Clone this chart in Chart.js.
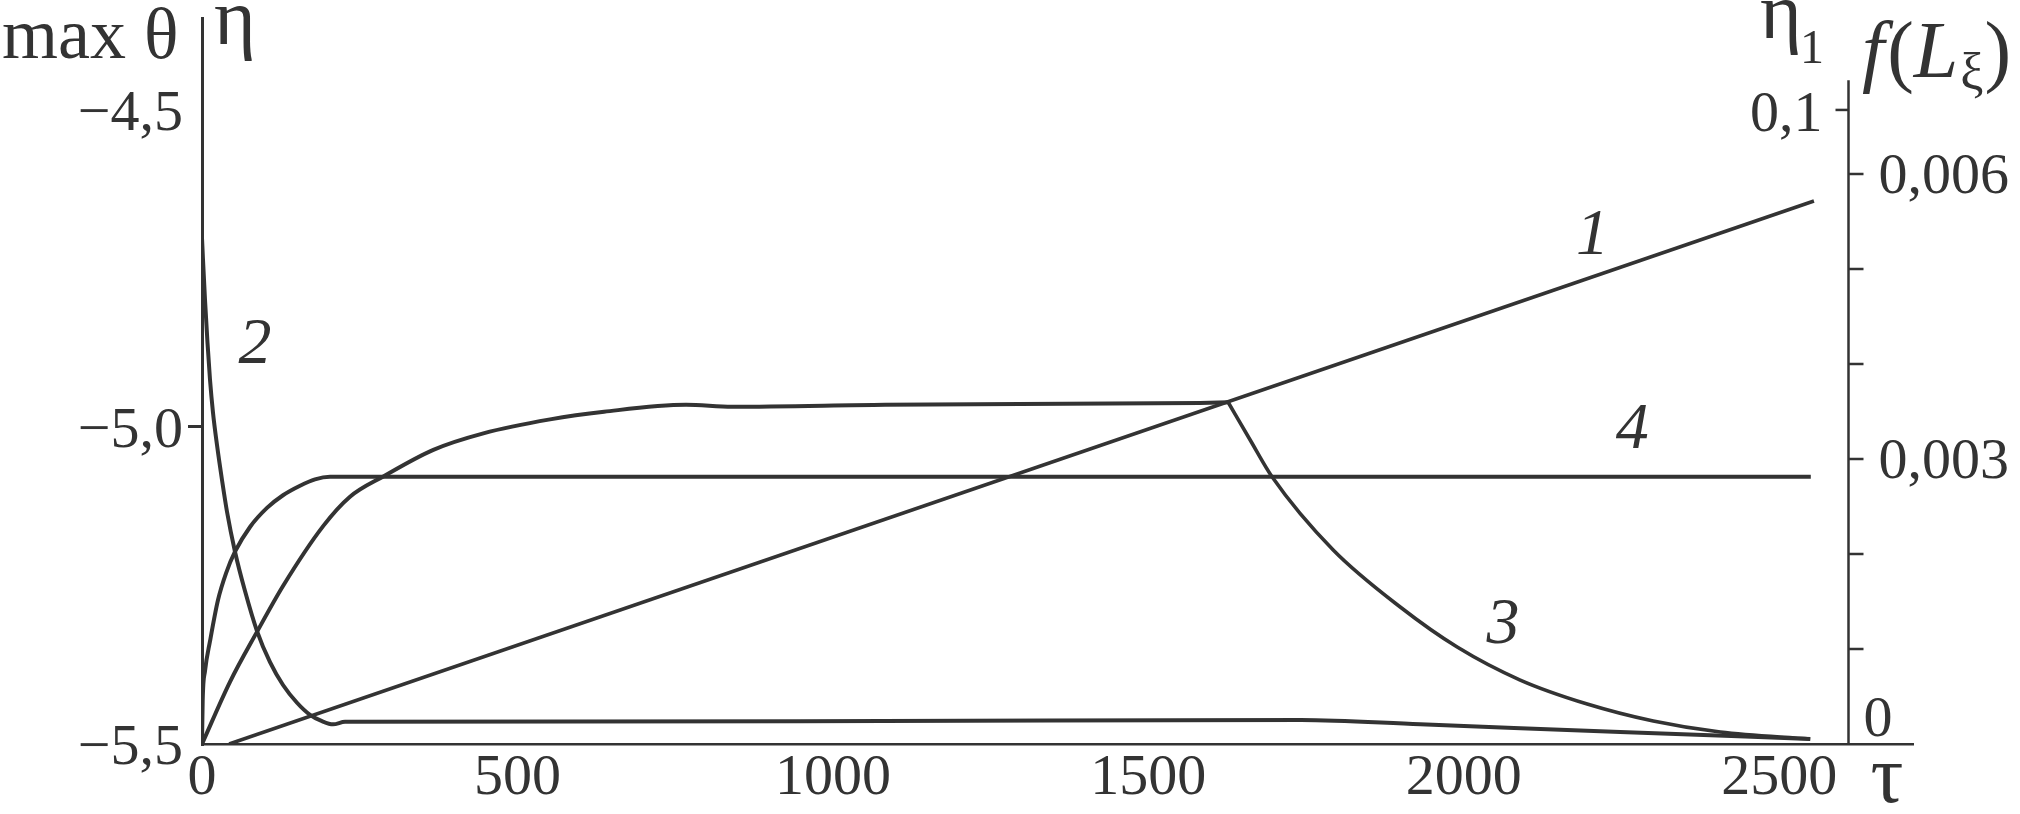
<!DOCTYPE html>
<html>
<head>
<meta charset="utf-8">
<script src="https://cdn.jsdelivr.net/npm/chart.js@4.4.1/dist/chart.umd.min.js"></script>
<style>
html, body { margin: 0; padding: 0; background: #ffffff; }
#wrap { width: 2020px; height: 814px; position: relative; }
</style>
</head>
<body>
<div id="wrap"><canvas id="c" width="2020" height="814"></canvas></div>
<script>
const INK = '#333333';
const FONT = '"Liberation Serif", "Times New Roman", serif';

// ---- tick values ----
const tauTicks = [0, 500, 1000, 1500, 2000, 2500];
const thetaTicks = [-5.5, -5.0, -4.5];
const thetaMarkedTicks = [-5.0];
const fMinorTicks = [0.001, 0.002, 0.003, 0.004, 0.005, 0.006];
const fLabelTicks = [0, 0.003, 0.006];
const eta1Ticks = [0.1];

// ---- curve 1 : f(L_xi) ----
const curve1Tau = [43, 2555];
const curve1F = [0, 0.005716];

// ---- curve 2 : max theta ----
const curve2JumpTau = [0, 0];
const curve2JumpTheta = [-5.5, -4.703];
const curve2Tau = [0, 1.59, 4.76, 8.72, 12.68, 17.44, 23.78, 31.71, 39.63, 52.31, 68.17, 87.19, 107.8, 128.4, 150.6, 171.2, 190.2, 207.7, 226.7, 948, 1742, 1931, 2248, 2549];
const curve2Theta = [-4.703, -4.737, -4.800, -4.868, -4.926, -4.978, -5.029, -5.084, -5.134, -5.197, -5.259, -5.322, -5.371, -5.407, -5.435, -5.454, -5.464, -5.469, -5.465, -5.464, -5.462, -5.469, -5.481, -5.492];

// ---- curve 3 : eta1 ----
const curve3RiseTau = [0, 44.4, 86.7, 128.9, 192.3, 234.6, 287.4, 366.7, 446, 551.7, 637.3, 767.3, 840.2, 1082.8, 1582.1, 1626.5];
const curve3RiseEta1 = [0, 0.0098, 0.0176, 0.0250, 0.0344, 0.0390, 0.0422, 0.0464, 0.0490, 0.0512, 0.0524, 0.0535, 0.0532, 0.0535, 0.0538, 0.0539];
const curve3FallTau = [1626.5, 1661.4, 1696.3, 1793.0, 1899.2, 1989.5, 2089.4, 2195.6, 2300.3, 2406.5, 2549.2];
const curve3FallEta1 = [0.0539, 0.04795, 0.04211, 0.0306, 0.02161, 0.0153, 0.01009, 0.00631, 0.00363, 0.00189, 0.00079];

// ---- curve 4 : eta ----
const curve4Tau = [0, 1.1, 4.76, 12.68, 25.36, 38.04, 52.3, 76.1, 103.0, 128.4, 155.4, 179.1, 202.9, 2550];
const curve4Theta = [-5.5, -5.431, -5.385, -5.338, -5.273, -5.231, -5.197, -5.158, -5.128, -5.108, -5.093, -5.083, -5.079, -5.079];

// ---- curve number labels (data coordinates) ----
const curveLabelText = ['1', '2', '3', '4'];
const curveLabelTau = [2204, 84, 2062, 2267];
const curveLabelVal = [0.005337, -4.872, -5.313, -5.007];
const curveLabelAxis = ['yf', 'y', 'y', 'y'];

function pts(xs, ys) { return xs.map((x, i) => ({ x: x, y: ys[i] })); }
function fmt(v, d) { return v.toFixed(d).replace('.', ',').replace('-', '\u2212'); }

const baseLine = {
  borderColor: INK, borderWidth: 4, pointRadius: 0, fill: false,
  cubicInterpolationMode: 'monotone', borderJoinStyle: 'round', borderCapStyle: 'butt'
};

const rightAxisPlugin = {
  id: 'rightAxis',
  afterDraw(chart, args, o) {
    const ctx = chart.ctx;
    const xs = chart.scales.x, yf = chart.scales.yf, ye = chart.scales.yeta1;
    const ax = Math.round(xs.getPixelForValue(o.atTau)) + 0.5;
    ctx.save();
    ctx.strokeStyle = INK; ctx.fillStyle = INK;
    ctx.lineWidth = 2.5;
    ctx.beginPath();
    ctx.moveTo(ax, ye.getPixelForValue(o.topEta1));
    ctx.lineTo(ax, ye.getPixelForValue(0));
    ctx.stroke();
    // eta1 ticks (left side)
    ctx.font = '58px ' + FONT;
    ctx.textAlign = 'right'; ctx.textBaseline = 'middle';
    eta1Ticks.forEach(v => {
      const y = ye.getPixelForValue(v);
      ctx.beginPath(); ctx.moveTo(ax - 13, y); ctx.lineTo(ax, y); ctx.stroke();
      ctx.fillText(fmt(v, 1), ax - 26, y + 6);
    });
    // f ticks (right side)
    fMinorTicks.forEach(v => {
      const y = yf.getPixelForValue(v);
      ctx.beginPath(); ctx.moveTo(ax, y); ctx.lineTo(ax + 15, y); ctx.stroke();
    });
    ctx.textAlign = 'left';
    fLabelTicks.forEach(v => {
      const y = yf.getPixelForValue(v);
      if (v === 0) {
        ctx.textBaseline = 'alphabetic';
        ctx.fillText('0', ax + 15, y - 8);
      } else {
        ctx.textBaseline = 'middle';
        ctx.fillText(fmt(v, 3), ax + 30, y + 4);
      }
    });
    ctx.restore();
  }
};

const titlesPlugin = {
  id: 'titles',
  afterDraw(chart) {
    const ctx = chart.ctx;
    ctx.save();
    ctx.fillStyle = INK;
    ctx.textBaseline = 'alphabetic';
    ctx.textAlign = 'left';
    // left titles
    ctx.font = '72px ' + FONT;
    ctx.fillText('max \u03b8', 2, 58);
    ctx.font = '80px ' + FONT;
    ctx.fillText('\u03b7', 214, 44);
    // eta1
    ctx.fillText('\u03b7', 1760, 38);
    ctx.font = '48px ' + FONT;
    ctx.fillText('1', 1800, 63);
    // f(L_xi)
    let x = 1862; const b = 77;
    ctx.font = 'italic 80px ' + FONT; ctx.fillText('f', x, b); x += ctx.measureText('f').width + 3;
    ctx.font = '80px ' + FONT; ctx.fillText('(', x, b); x += ctx.measureText('(').width;
    ctx.font = 'italic 80px ' + FONT; ctx.fillText('L', x, b); x += ctx.measureText('L').width + 2;
    ctx.font = '52px ' + FONT; ctx.fillText('\u03be', x, b + 12); x += ctx.measureText('\u03be').width + 1;
    ctx.font = '80px ' + FONT; ctx.fillText(')', x, b);
    // tau
    ctx.font = '82px ' + FONT; ctx.textAlign = 'center';
    ctx.fillText('\u03c4', 1887, 802);
    // curve numbers
    ctx.font = 'italic 66px ' + FONT;
    ctx.textBaseline = 'middle';
    curveLabelText.forEach((t, i) => {
      const px = chart.scales.x.getPixelForValue(curveLabelTau[i]);
      const py = chart.scales[curveLabelAxis[i]].getPixelForValue(curveLabelVal[i]);
      ctx.fillText(t, px, py);
    });
    ctx.restore();
  }
};

new Chart(document.getElementById('c'), {
  type: 'line',
  data: {
    datasets: [
      Object.assign({}, baseLine, { label: '1', data: pts(curve1Tau, curve1F), yAxisID: 'yf', borderWidth: 3.6, cubicInterpolationMode: 'default', tension: 0 }),
      Object.assign({}, baseLine, { label: '2 jump', data: pts(curve2JumpTau, curve2JumpTheta), yAxisID: 'y', cubicInterpolationMode: 'default', tension: 0 }),
      Object.assign({}, baseLine, { label: '2', data: pts(curve2Tau, curve2Theta), yAxisID: 'y' }),
      Object.assign({}, baseLine, { label: '3 rise', data: pts(curve3RiseTau, curve3RiseEta1), yAxisID: 'yeta1' }),
      Object.assign({}, baseLine, { label: '3 fall', data: pts(curve3FallTau, curve3FallEta1), yAxisID: 'yeta1', borderWidth: 3.6 }),
      Object.assign({}, baseLine, { label: '4', data: pts(curve4Tau, curve4Theta), yAxisID: 'y' })
    ]
  },
  options: {
    responsive: false,
    animation: false,
    devicePixelRatio: 1,
    events: [],
    layout: { padding: { left: 0, top: 18, right: 107, bottom: 0 } },
    plugins: {
      legend: { display: false },
      tooltip: { enabled: false },
      rightAxis: { atTau: 2609, topEta1: 0.1047 }
    },
    scales: {
      x: {
        type: 'linear', position: 'bottom', min: 0, max: 2712,
        afterBuildTicks: s => { s.ticks = tauTicks.map(v => ({ value: v })); },
        afterFit: s => { s.height = 70; s.paddingLeft = 0; s.paddingRight = 0; },
        grid: { display: false, drawTicks: false },
        border: { display: true, color: INK, width: 2.5 },
        ticks: { color: INK, font: { family: FONT, size: 58 }, padding: 0, maxRotation: 0, autoSkip: false, callback: v => String(v) }
      },
      y: {
        type: 'linear', position: 'left', min: -5.5, max: -4.356,
        afterBuildTicks: s => { s.ticks = thetaTicks.map(v => ({ value: v })); },
        afterFit: s => { s.width = 202; s.paddingTop = 0; s.paddingBottom = 0; },
        grid: {
          display: true, drawOnChartArea: false, drawTicks: true, tickLength: 14, lineWidth: 3,
          color: c => (c.tick && thetaMarkedTicks.includes(c.tick.value)) ? INK : 'rgba(0,0,0,0)'
        },
        border: { display: true, color: INK, width: 3 },
        ticks: { color: INK, font: { family: FONT, size: 58 }, padding: 5, labelOffset: 5, autoSkip: false, callback: v => fmt(v, 1) }
      },
      yf: { type: 'linear', display: false, min: 0, max: 0.007642, afterFit: s => { s.width = 0; } },
      yeta1: { type: 'linear', display: false, min: 0, max: 0.1145, afterFit: s => { s.width = 0; } }
    }
  },
  plugins: [rightAxisPlugin, titlesPlugin]
});
</script>
</body>
</html>
